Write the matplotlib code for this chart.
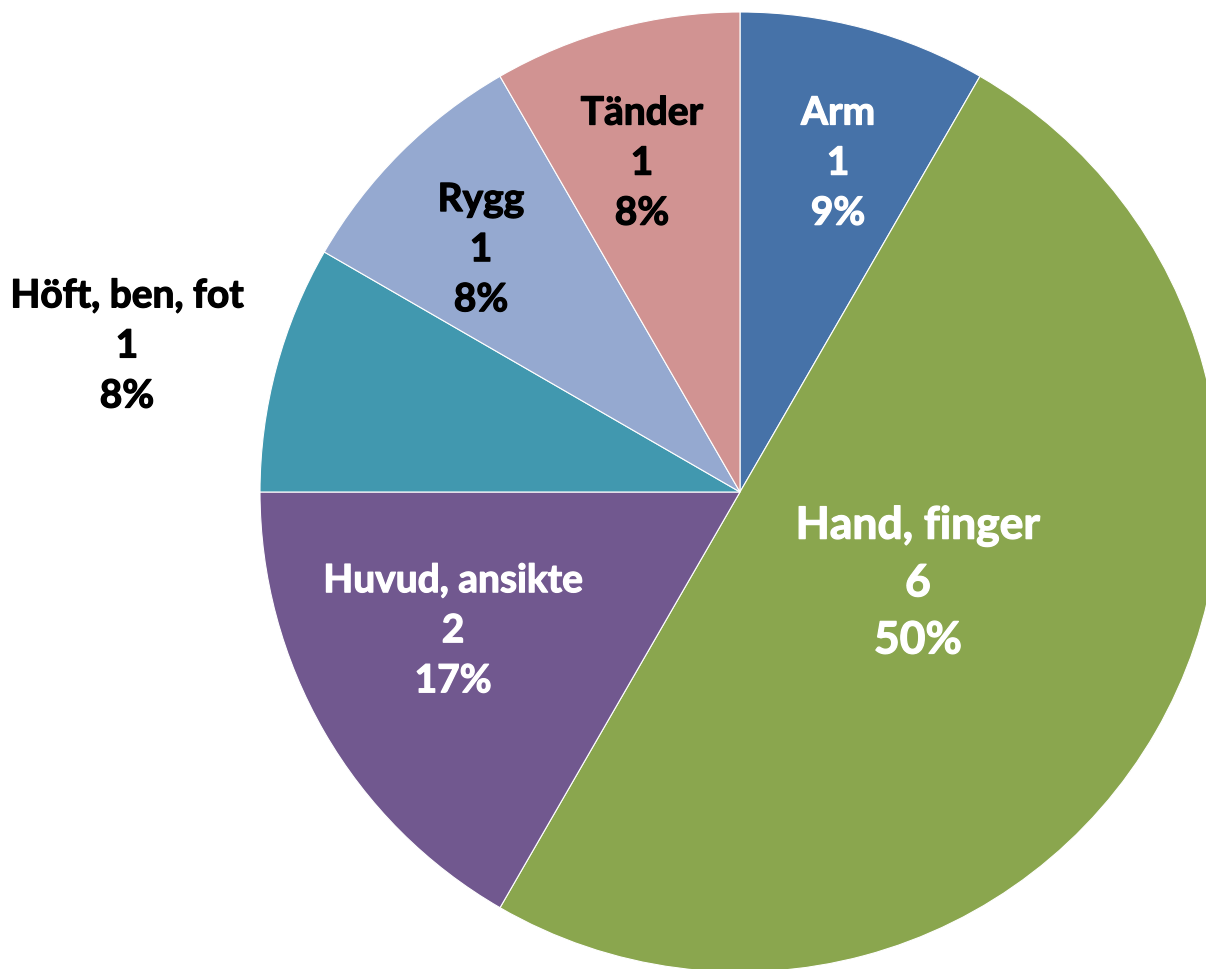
import matplotlib.pyplot as plt
import matplotlib.patheffects as pe
import numpy as np

kategorier = ["Arm", "Hand, finger", "Huvud, ansikte", "Höft, ben, fot", "Rygg", "Tänder"]
antal = [1, 6, 2, 1, 1, 1]
procent = ["9%", "50%", "17%", "8%", "8%", "8%"]
farger = ["#4672A8", "#8AA64E", "#71588F", "#4198AF", "#95A9D0", "#D19392"]
textfarg = ["white", "white", "white", "black", "black", "black"]
# etikettplacering: avstånd från mitten och vinkeljustering (grader)
avstand = [0.715, 0.4165, 0.664, 1.313, 0.739, 0.715]
vinkeljust = [-1.6, 2.9, -4.2, 1.6, 1.9, 1.6]
storlek = [28, 32, 28, 28, 28, 28]

fig = plt.figure(figsize=(12.06, 9.69), dpi=100)
ax = fig.add_axes([0, 0, 1, 1])

wedges, _ = ax.pie(antal, colors=farger, startangle=90, counterclock=False,
                   radius=1, center=(0, 0),
                   wedgeprops=dict(edgecolor="white", linewidth=0.8))

# etiketter
for w, namn, n, p, c, d, v, s in zip(wedges, kategorier, antal, procent, textfarg,
                                     avstand, vinkeljust, storlek):
    mitt = np.deg2rad((w.theta1 + w.theta2) / 2 + v)
    x, y = d * np.cos(mitt), d * np.sin(mitt)
    ax.text(x, y, f"{namn}\n{n}\n{p}", ha="center", va="center", color=c,
            fontsize=s, fontweight="bold", family="Lato", linespacing=1.52,
            path_effects=[pe.withStroke(linewidth=0.9, foreground=c)])

ax.set_xlim(-740 / 480, (1206 - 740) / 480)
ax.set_ylim(-(969 - 492) / 480, 492 / 480)
ax.set_aspect("equal")
ax.set_axis_off()

fig.savefig("out.png", dpi=100)
